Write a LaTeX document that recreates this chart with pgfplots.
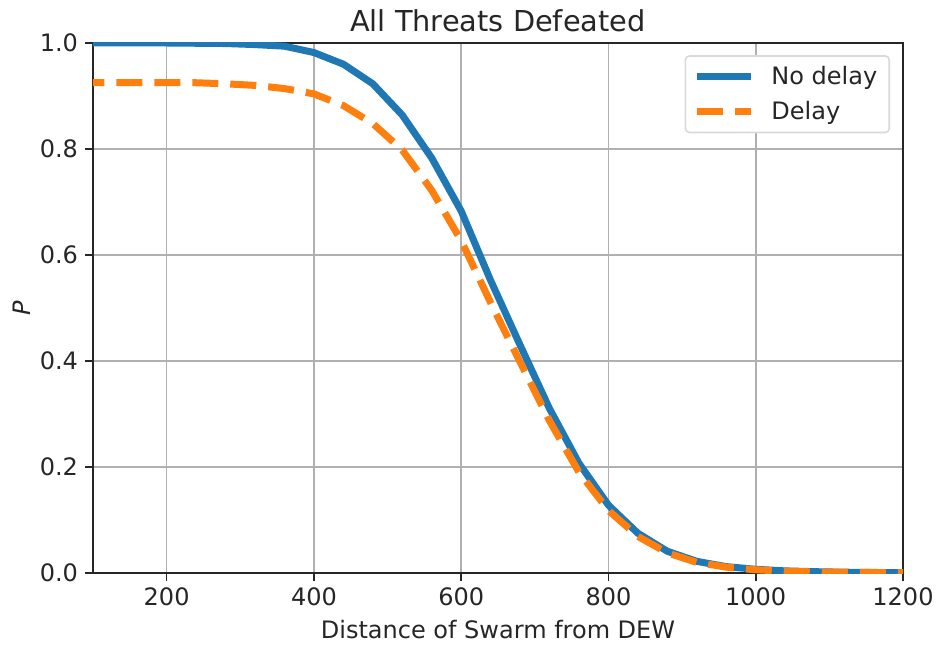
\documentclass[border=0pt]{standalone}
\usepackage{fontspec}
\setmainfont{DejaVu Sans}
\usepackage{pgfplots}
\pgfplotsset{compat=1.18}
\definecolor{mblue}{HTML}{1F77B4}
\definecolor{morange}{HTML}{FF7F0E}
\definecolor{gridgray}{HTML}{B0B0B0}
\definecolor{framec}{HTML}{262626}
\begin{document}
\begin{tikzpicture}
\useasboundingbox (-46.5pt,-37.5pt) rectangle (422pt,286.5pt);
\begin{axis}[
  scale only axis,
  width=405pt, height=265pt,
  xmin=100, xmax=1200, ymin=0, ymax=1,
  xtick={200,400,...,1200},
  ytick={0,0.2,...,1.0},
  xticklabel style={/pgf/number format/.cd,1000 sep={}},
  yticklabel style={/pgf/number format/.cd,fixed,fixed zerofill,precision=1},
  /pgf/number format/assume math mode=true,
  tick label style={font=\fontsize{12}{14}\selectfont, color=framec},
  label style={font=\fontsize{12}{14}\selectfont, color=framec},
  xlabel={Distance of Swarm from DEW},
  ylabel={\textit{P}},
  title={All Threats Defeated},
  title style={font=\fontsize{14.4}{16}\selectfont, color=framec, yshift=-4pt},
  xlabel style={yshift=0pt},
  ylabel style={yshift=-2pt},
  grid=major,
  major grid style={color=gridgray, line width=0.8pt},
  axis line style={color=framec, line width=0.8pt},
  tick style={color=framec, line width=0.8pt},
  tick align=outside,
  major tick length=4pt,
  xtick pos=bottom, ytick pos=left,
  legend cell align=left,
  legend style={at={(0.984,0.977)}, anchor=north east, draw=black!15, rounded corners=2pt,
    font=\fontsize{12}{14}\selectfont, text=framec, inner xsep=4pt, inner ysep=3pt,
    row sep=3pt, line width=0.8pt,
    /tikz/every odd column/.append style={column sep=6.5pt}},
  legend image code/.code={\draw[#1] (0pt,0pt) -- (27pt,0pt);},
]
\addplot[mblue, line width=3.5pt, line join=round] coordinates {
(80,1.0)(120,1.0)(160,1.0)(200,1.0)(240,0.9995)(280,0.999)(320,0.997)(360,0.994)
(400,0.982)(440,0.960)(480,0.923)(520,0.864)(560,0.783)(600,0.683)(640,0.552)
(680,0.430)(720,0.310)(760,0.207)(800,0.128)(840,0.075)(880,0.041)(920,0.022)
(960,0.012)(1000,0.007)(1040,0.004)(1080,0.0025)(1120,0.0015)(1160,0.001)(1200,0.0006)
};
\addlegendentry{No delay}
\addplot[morange, line width=3.5pt, dash pattern=on 13pt off 6pt] coordinates {
(80,0.925)(120,0.925)(160,0.925)(200,0.925)(240,0.925)(280,0.923)(320,0.920)(360,0.914)
(400,0.904)(440,0.882)(480,0.848)(520,0.798)(560,0.722)(600,0.627)(640,0.510)
(680,0.398)(720,0.287)(760,0.190)(800,0.118)(840,0.069)(880,0.038)(920,0.020)
(960,0.011)(1000,0.006)(1040,0.0035)(1080,0.002)(1120,0.0013)(1160,0.0009)(1200,0.0005)
};
\addlegendentry{Delay}
\end{axis}
\end{tikzpicture}
\end{document}
